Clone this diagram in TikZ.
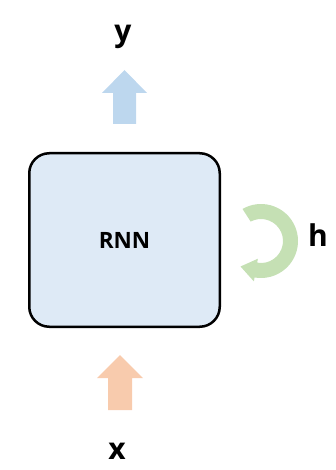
\documentclass[tikz,border=0pt]{standalone}
\usepackage{fontspec}
\setmainfont{Open Sans}
\usetikzlibrary{calc}
\definecolor{boxfill}{HTML}{DEEAF6}
\definecolor{blueA}{HTML}{BDD7EE}
\definecolor{orangeA}{HTML}{F8CBAD}
\definecolor{greenA}{HTML}{C5E0B4}
\begin{document}
\begin{tikzpicture}[x=1pt,y=-1pt,
  bigbox/.style={draw=black,line width=2.5pt,fill=boxfill,rounded corners=20pt,
    minimum width=190.5pt,minimum height=173.5pt,inner sep=0pt},
  lbl/.style={font=\bfseries\fontsize{30}{30}\selectfont,inner sep=0pt,anchor=base},
  mlbl/.style={font=\bfseries\fontsize{22.5}{22.5}\selectfont,inner sep=0pt}]
\useasboundingbox (0,0) rectangle (336,470);
% main box
\node[bigbox] (rnn) at (124.5,240) {};
\node[mlbl] (rnnlabel) at (rnn.center) {RNN};
% output arrow (blue)
\fill[blueA] (124.5,70) -- (147,93) -- (136,93) -- (136,124) -- (113,124) -- (113,93) -- (102,93) -- cycle;
\node[lbl] (ylab) at (123,42) {y};
% input arrow (orange)
\fill[orangeA] (120,355) -- (143,378) -- (132,378) -- (132,410) -- (108,410) -- (108,378) -- (97,378) -- cycle;
\node[lbl] (xlab) at (117,459) {x};
% recurrent loop (green)
\coordinate (lc) at (261,241);
\fill[greenA] ($(lc)+(-120:37)$) arc[start angle=-120,end angle=100,radius=37]
  -- ($(lc)+(100:41)$) -- (240.5,266.5) -- ($(lc)+(100:18)$)
  -- ($(lc)+(100:22)$) arc[start angle=100,end angle=-118,radius=22] -- cycle;
\node[lbl] (hlab) at (318,246) {h};
\end{tikzpicture}
\end{document}
